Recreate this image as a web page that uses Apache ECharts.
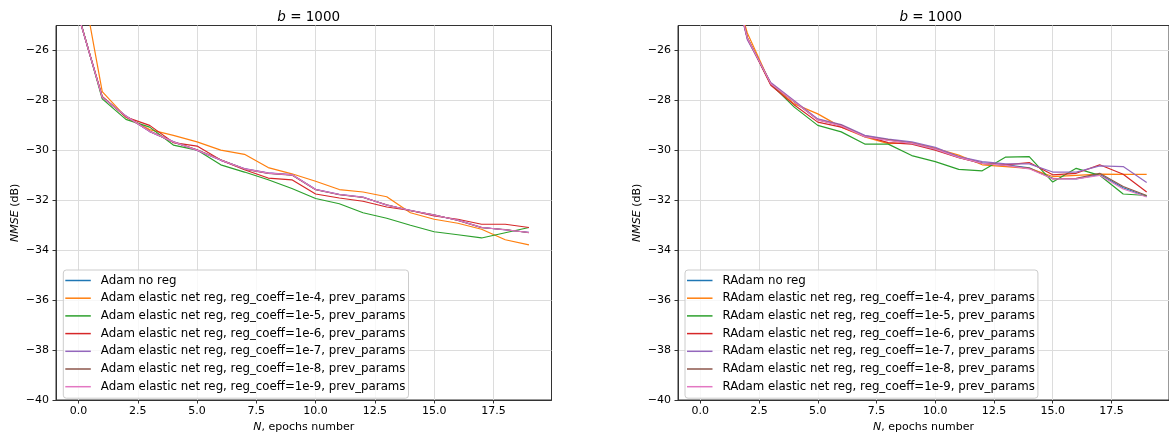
<!DOCTYPE html>
<html><head><meta charset="utf-8">
<script src="https://cdn.jsdelivr.net/npm/echarts@6/dist/echarts.min.js"></script>
<style>html,body{margin:0;padding:0;background:#fff}#c{width:1169px;height:438px}</style>
</head><body><div id="c"></div>
<script>
const epochs = [0,1,2,3,4,5,6,7,8,9,10,11,12,13,14,15,16,17,18,19];
const xTicks = [0, 2.5, 5, 7.5, 10, 12.5, 15, 17.5];
const yTicks = [-40, -38, -36, -34, -32, -30, -28, -26];

const adamNames = [
  'Adam no reg',
  'Adam elastic net reg, reg_coeff=1e-4, prev_params',
  'Adam elastic net reg, reg_coeff=1e-5, prev_params',
  'Adam elastic net reg, reg_coeff=1e-6, prev_params',
  'Adam elastic net reg, reg_coeff=1e-7, prev_params',
  'Adam elastic net reg, reg_coeff=1e-8, prev_params',
  'Adam elastic net reg, reg_coeff=1e-9, prev_params'
];
const radamNames = [
  'RAdam no reg',
  'RAdam elastic net reg, reg_coeff=1e-4, prev_params',
  'RAdam elastic net reg, reg_coeff=1e-5, prev_params',
  'RAdam elastic net reg, reg_coeff=1e-6, prev_params',
  'RAdam elastic net reg, reg_coeff=1e-7, prev_params',
  'RAdam elastic net reg, reg_coeff=1e-8, prev_params',
  'RAdam elastic net reg, reg_coeff=1e-9, prev_params'
];

const adamNoReg = [-24.6, -27.88, -28.63, -29.24, -29.66, -29.99, -30.39, -30.74, -30.91, -30.98, -31.57, -31.77, -31.88, -32.19, -32.41, -32.59, -32.80, -33.09, -33.18, -33.29];
const adam1e4   = [-22.45, -27.65, -28.67, -29.17, -29.40, -29.66, -29.99, -30.16, -30.69, -30.94, -31.24, -31.57, -31.67, -31.86, -32.50, -32.76, -32.92, -33.16, -33.58, -33.79];
const adam1e5   = [-24.55, -27.94, -28.76, -29.07, -29.79, -29.99, -30.58, -30.87, -31.18, -31.53, -31.93, -32.14, -32.50, -32.72, -33.00, -33.26, -33.38, -33.51, -33.30, -33.09];
const adam1e6   = [-24.6, -27.84, -28.67, -29.00, -29.69, -29.83, -30.39, -30.78, -31.11, -31.18, -31.75, -31.91, -32.04, -32.27, -32.41, -32.63, -32.76, -32.96, -32.96, -33.09];
const adam1e7   = [-24.62, -27.86, -28.62, -29.25, -29.65, -30.00, -30.40, -30.73, -30.90, -30.97, -31.56, -31.76, -31.87, -32.20, -32.40, -32.60, -32.79, -33.08, -33.19, -33.28];
const adam1e8   = [-24.61, -27.87, -28.64, -29.23, -29.67, -29.98, -30.38, -30.75, -30.92, -30.99, -31.58, -31.78, -31.89, -32.18, -32.42, -32.58, -32.81, -33.10, -33.17, -33.30];
const adam1e9   = [-24.6, -27.88, -28.63, -29.24, -29.66, -29.99, -30.39, -30.74, -30.91, -30.98, -31.57, -31.77, -31.88, -32.19, -32.41, -32.59, -32.80, -33.09, -33.18, -33.29];

const radamNoReg = [-17.0, -21.6, -25.5, -27.33, -28.05, -28.76, -29.00, -29.42, -29.58, -29.70, -29.92, -30.25, -30.50, -30.58, -30.70, -31.12, -31.14, -30.97, -31.50, -31.85];
const radam1e4   = [-17.5, -22.0, -25.3, -27.35, -28.14, -28.54, -29.07, -29.46, -29.73, -29.69, -29.92, -30.19, -30.58, -30.65, -30.72, -31.05, -31.00, -30.95, -30.96, -30.96];
const radam1e5   = [-17.0, -21.6, -25.5, -27.35, -28.27, -29.00, -29.26, -29.75, -29.75, -30.21, -30.45, -30.76, -30.82, -30.27, -30.25, -31.27, -30.72, -31.00, -31.75, -31.81];
const radam1e6   = [-17.0, -21.6, -25.5, -27.39, -28.18, -28.87, -29.07, -29.42, -29.69, -29.75, -29.99, -30.29, -30.52, -30.58, -30.49, -30.98, -30.92, -30.58, -30.96, -31.67];
const radam1e7   = [-17.0, -21.6, -25.57, -27.28, -28.01, -28.74, -28.97, -29.40, -29.55, -29.66, -29.88, -30.25, -30.45, -30.54, -30.54, -30.87, -30.87, -30.62, -30.65, -31.29];
const radam1e8   = [-17.0, -21.6, -25.5, -27.33, -28.05, -28.78, -29.00, -29.45, -29.58, -29.72, -29.95, -30.28, -30.52, -30.60, -30.72, -31.14, -31.12, -30.92, -31.45, -31.81];
const radam1e9   = [-17.0, -21.6, -25.5, -27.33, -28.05, -28.78, -29.02, -29.45, -29.60, -29.72, -29.95, -30.28, -30.52, -30.60, -30.74, -31.14, -31.14, -31.00, -31.55, -31.87];

const colors = ['#1f77b4', '#ff7f0e', '#2ca02c', '#d62728', '#9467bd', '#8c564b', '#e377c2'];
const adamData = [adamNoReg, adam1e4, adam1e5, adam1e6, adam1e7, adam1e8, adam1e9];
const radamData = [radamNoReg, radam1e4, radam1e5, radam1e6, radam1e7, radam1e8, radam1e9];

const FONT = 'DejaVu Sans';
const minusFmt = v => (v < 0 ? '\u2212' : '') + Math.abs(v);

function xAxisFor(gi) {
  return {
    type: 'value', gridIndex: gi, min: -0.95, max: 19.95,
    name: '{i|N}, epochs number', nameLocation: 'middle', nameGap: 22,
    nameTextStyle: { fontFamily: FONT, fontSize: 11, color: '#000', rich: { i: { fontStyle: 'italic', fontFamily: FONT, fontSize: 11, color: '#000' } } },
    axisLine: { show: true, onZero: false, lineStyle: { color: '#333', width: 1 } },
    axisTick: { show: true, length: 3.5, customValues: xTicks, lineStyle: { color: '#333' } },
    axisLabel: { customValues: xTicks, margin: 6, fontFamily: FONT, fontSize: 11, color: '#000', formatter: v => v.toFixed(1) },
    splitLine: { show: true, customValues: xTicks, lineStyle: { color: '#dcdcdc', width: 1 } }
  };
}
function yAxisFor(gi) {
  return {
    type: 'value', gridIndex: gi, min: -40, max: -25,
    name: '{i|NMSE} (dB)', nameLocation: 'middle', nameGap: 35,
    nameTextStyle: { fontFamily: FONT, fontSize: 11, color: '#000', rich: { i: { fontStyle: 'italic', fontFamily: FONT, fontSize: 11, color: '#000' } } },
    axisLine: { show: true, onZero: false, lineStyle: { color: '#333', width: 1 } },
    axisTick: { show: true, length: 3.5, customValues: yTicks, lineStyle: { color: '#333' } },
    axisLabel: { customValues: yTicks, margin: 7, fontFamily: FONT, fontSize: 11, color: '#000', formatter: minusFmt },
    splitLine: { show: true, customValues: yTicks, lineStyle: { color: '#dcdcdc', width: 1 } }
  };
}
function legendFor(names, left) {
  return {
    orient: 'vertical', left: left, top: 270, data: names,
    icon: 'rect', itemWidth: 25.5, itemHeight: 1.5, itemGap: 4.7,
    padding: [4, 3, 5, 2],
    backgroundColor: 'rgba(255,255,255,0.8)', borderColor: '#cccccc', borderWidth: 1, borderRadius: 3,
    textStyle: { fontFamily: FONT, fontSize: 11.8, color: '#000', lineHeight: 13, padding: [0, 0, 0, 5] },
    selectedMode: false
  };
}
function makeSeries(names, data, gi) {
  return names.map((n, k) => ({
    name: n, type: 'line', xAxisIndex: gi, yAxisIndex: gi,
    data: epochs.map((e, i) => [e, data[k][i]]),
    symbol: 'none', clip: true, color: colors[k],
    lineStyle: { width: 1.2, color: colors[k] }, z: 2 + k
  }));
}

const titleStyle = { fontFamily: FONT, fontSize: 13.5, fontWeight: 'normal', color: '#000', rich: { i: { fontStyle: 'italic', fontFamily: FONT, fontSize: 13.5, color: '#000' } } };
const chart = echarts.init(document.getElementById('c'), null, { renderer: 'canvas' });
chart.setOption({
  animation: false,
  backgroundColor: '#fff',
  title: [
    { text: '{i|b} = 1000', left: 303.7, top: 5, textAlign: 'center', textStyle: titleStyle },
    { text: '{i|b} = 1000', left: 925.8, top: 5, textAlign: 'center', textStyle: titleStyle }
  ],
  grid: [
    { left: 56, top: 25.5, width: 495.5, height: 379, show: true, borderColor: '#333', borderWidth: 1, backgroundColor: 'transparent' },
    { left: 678, top: 25.5, width: 495.5, height: 379, show: true, borderColor: '#333', borderWidth: 1, backgroundColor: 'transparent' }
  ],
  xAxis: [xAxisFor(0), xAxisFor(1)],
  yAxis: [yAxisFor(0), yAxisFor(1)],
  legend: [legendFor(adamNames, 63.3), legendFor(radamNames, 685)],
  series: makeSeries(adamNames, adamData, 0).concat(makeSeries(radamNames, radamData, 1))
});
</script>
</body></html>
